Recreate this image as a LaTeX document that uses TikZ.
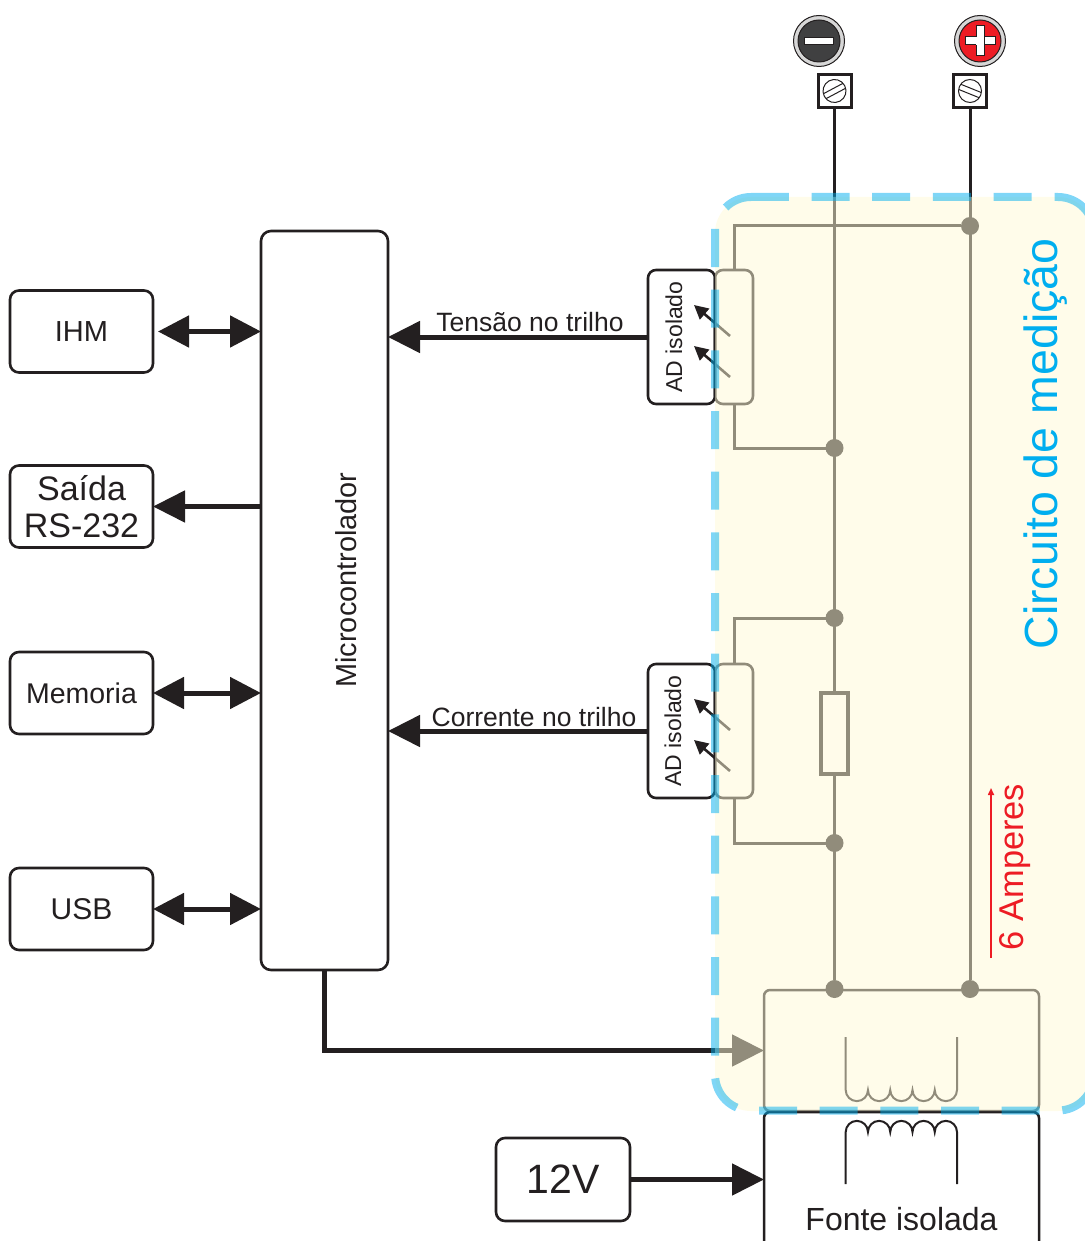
\documentclass[tikz,border=0pt]{standalone}
\usepackage{fontspec}
\setmainfont{Liberation Sans}
\usetikzlibrary{arrows.meta, positioning, calc}
\definecolor{ink}{RGB}{35,31,32}
\definecolor{creamveil}{rgb}{1,.975,.84}
\definecolor{cyanline}{RGB}{0,174,239}
\definecolor{redlabel}{RGB}{237,28,36}
\definecolor{capdark}{RGB}{64,64,65}
\definecolor{capring}{RGB}{215,215,215}
\newcommand{\fs}[1]{\fontsize{#1}{#1}\selectfont}

\begin{document}
\begin{tikzpicture}[
      x=1pt, y=-1pt,
      node distance=0pt,
      every node/.style={text=ink, inner sep=0pt, outer sep=0pt},
      box/.style={rectangle, draw=ink, line width=2.6pt, rounded corners=9pt, fill=white, minimum width=143pt, minimum height=82pt, align=center, font=\fs{29}},
      adbox/.style={rectangle, draw=ink, line width=2.6pt, rounded corners=8pt, fill=white, minimum width=67pt, minimum height=134pt},
      sensebox/.style={rectangle, draw=ink, line width=2.6pt, rounded corners=8pt, minimum width=38pt, minimum height=134pt},
      dot/.style={circle, fill=ink, minimum size=18pt},
      screwbox/.style={rectangle, draw=ink, line width=3pt, fill=white, minimum size=33pt},
      capouter/.style={circle, draw=ink, line width=1pt, fill=capring, minimum size=51pt},
      capinner/.style={circle, draw=ink, line width=1pt, minimum size=42pt},
      signbar/.style={rectangle, draw=ink, line width=1pt, fill=white},
      wire/.style={ink, line width=3pt},
      bus/.style={ink, line width=5pt, -{Triangle[length=32pt, width=31pt]}},
      bibus/.style={ink, line width=5pt, {Triangle[length=31pt, width=31pt]}-{Triangle[length=31pt, width=31pt]}},
      sensearrow/.style={ink, line width=2.6pt, -{Triangle[length=14pt, width=14pt]}},
      coil/.style={ink, line width=2pt},
      dashline/.style={cyanline, opacity=.5, line width=8pt, rounded corners=36pt}
    ]
    \useasboundingbox (0,0) rectangle (1084,1241);

    % Blocos da esquerda
    \node (ihm) [box] at (81.5,331.5) {IHM};
    \node (rs) [box, font=\fs{34}] at (81.5,506.5) {Saída\\[3pt]RS-232};
    \node (mem) [box, font=\fs{28.5}] at (81.5,693) {Memoria};
    \node (usb) [box, font=\fs{30}] at (81.5,909) {USB};
    \node (mcu) [rectangle, draw=ink, line width=2.6pt, rounded corners=10pt, minimum width=127pt, minimum height=739pt] at (324.5,600.5) {};
    \node (mculabel) [rotate=90, font=\fs{28.9}] at (346,580) {Microcontrolador};

    % Conversores
    \node (adv) [adbox] at (681.5,337) {};
    \node (advs) [sensebox, right=0pt of adv] {};
    \node (adc) [adbox] at (681.5,731) {};
    \node (adcs) [sensebox, right=0pt of adc] {};
    \node (advlabel) [rotate=90, font=\fs{23}] at (674,337) {AD isolado};
    \node (adclabel) [rotate=90, font=\fs{23}] at (673,731) {AD isolado};

    % Fonte
    \node (trafo) [rectangle, draw=ink, line width=2.5pt, rounded corners=6pt, minimum width=275pt, minimum height=121pt] at (901.5,1050.5) {};
    \node (fonte) [rectangle, draw=ink, line width=2.5pt, rounded corners=6pt, minimum width=275pt, minimum height=170pt] at (901.5,1197) {};
    \node (fontelabel) [anchor=base, font=\fs{32}] at (901.5,1230) {Fonte isolada};
    \node (vin) [box, minimum width=134pt, minimum height=83pt, font=\fs{41}] at (563,1179.5) {12V};

    % Bornes
    \node (capm) [capouter] at (819,41) {};
    \node (capmi) [capinner, fill=capdark] at (capm) {};
    \node (minus) [signbar, minimum width=29pt, minimum height=7pt] at (capm) {};
    \node (capp) [capouter] at (980,41) {};
    \node (cappi) [capinner, fill=redlabel] at (capp) {};
    \node (plush) [signbar, minimum width=30pt, minimum height=8pt] at (capp) {};
    \node (plusv) [signbar, minimum width=8pt, minimum height=30pt] at (capp) {};
    \node (plusc) [rectangle, fill=white, minimum size=8pt] at (capp) {};
    \node (tminus) [screwbox] at (834.5,91) {};
    \node (tplus) [screwbox] at (970,91) {};
    \foreach \term/\ang in {tminus/28, tplus/-22} {
      \begin{scope}[shift={(\term)}, rotate=\ang]
        \draw[ink, line width=1pt] (0,0) circle[radius=11.5pt];
        \draw[ink, line width=1pt] (-11,2.8) -- (11,2.8) (-11,-2.8) -- (11,-2.8);
      \end{scope}
    }

    % Pontos de ligacao
    \node (jtop) [dot] at (970,226) {};
    \node (jv) [dot] at (834.5,448) {};
    \node (jc1) [dot] at (834.5,618) {};
    \node (jc2) [dot] at (834.5,843) {};
    \node (jbl) [dot] at (834.5,989) {};
    \node (jbr) [dot] at (970,989) {};

    % Ligacoes do circuito
    \draw [wire] (tminus) -- (jbl);
    \draw [wire] (tplus) -- (jbr);
    \draw [wire] (advs.north) |- (jtop);
    \draw [wire] (advs.south) |- (jv);
    \draw [wire] (adcs.north) |- (jc1);
    \draw [wire] (adcs.south) |- (jc2);
    \node (shunt) [rectangle, draw=ink, line width=4pt, fill=white, minimum width=27pt, minimum height=81pt] at (834.5,733) {};

    % Setas dos isoladores
    \foreach \cy in {305,346,699,740} {
      \coordinate (tip\cy) at (694,\cy);
      \coordinate (tail\cy) at (730,\cy+31);
      \draw [sensearrow] (tail\cy) -- (tip\cy);
    }

    % Bobinas
    \coordinate (upa) at (845.7,1037);
    \coordinate (upb) at (957,1037);
    \draw [coil] (upa) -- (845.7,1090) \foreach \i in {1,...,5} { arc[start angle=180, end angle=360, radius=11.13pt] } -- (upb);
    \coordinate (loa) at (845.7,1184);
    \coordinate (lob) at (957,1184);
    \draw [coil] (loa) -- (845.7,1132) \foreach \i in {1,...,5} { arc[start angle=180, end angle=0, radius=11.13pt] } -- (lob);

    % Barramentos
    \draw [bibus] ([xshift=5pt]ihm.east) -- (mcu.west |- ihm);
    \draw [bus] (mcu.west |- rs) -- (rs.east);
    \draw [bibus] (mem) -- (mcu.west |- mem);
    \draw [bibus] (usb) -- (mcu.west |- usb);
    \draw [bus] (adv.west) -- node[above=5pt, xshift=12pt, font=\fs{26.5}] (tensao) {Tensão no trilho} (mcu.east |- adv);
    \draw [bus] (adc.west) -- node[above=4pt, xshift=16pt, font=\fs{26.5}] (corrente) {Corrente no trilho} (mcu.east |- adc);
    \draw [bus] (mcu.south) |- (trafo.west);
    \draw [bus] (vin) -- (vin -| fonte.west);

    % Area de medicao
    \fill [creamveil, opacity=.5, rounded corners=36pt] (715,197) rectangle (1094,1111);
    \draw [dashline, dash pattern=on 38pt off 22.67pt] (715,229) -- (715,1110.5) -- (1094,1110.5) -- (1094,1000);
    \draw [dashline, dash pattern=on 60pt off 23pt on 38pt off 22.67pt on 38pt off 22.67pt on 38pt off 22.67pt on 38pt off 22.67pt on 66pt off 300pt] (1094,233) -- (1094,197) -- (715,197) -- (715,290);

    \node (circuito) [rotate=90, font=\fs{46.5}, text=cyanline] at (1046,444) {Circuito de medição};
    \node (amperes) [rotate=90, font=\fs{34.4}, text=redlabel] at (1015,867) {6 Amperes};
    \coordinate (ampa) at (991,958);
    \coordinate (ampb) at (991,788);
    \draw [redlabel, line width=1.6pt, -{Triangle[length=7pt, width=6pt]}] (ampa) -- (ampb);

  \end{tikzpicture}
\end{document}
